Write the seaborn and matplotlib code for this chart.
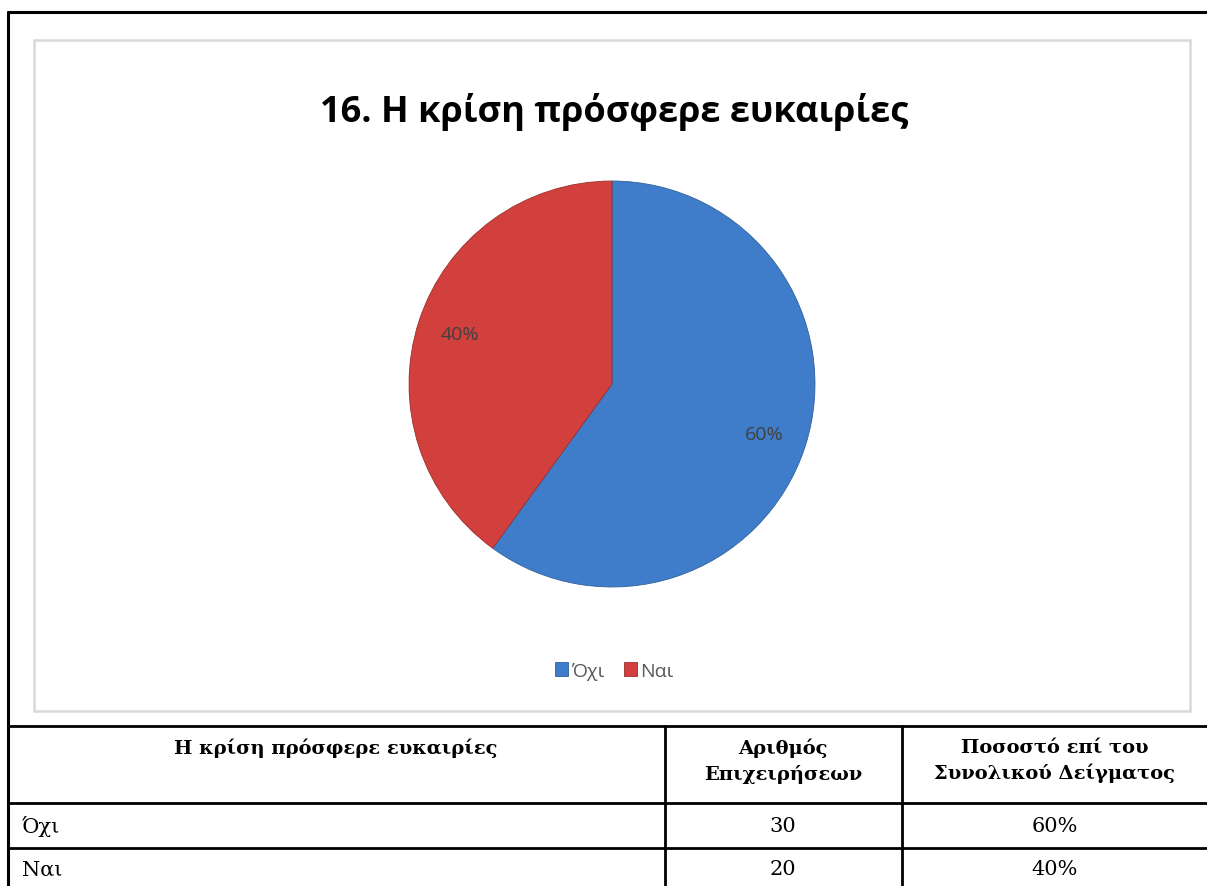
import matplotlib
matplotlib.use("Agg")
import matplotlib.pyplot as plt
import seaborn as sns
from matplotlib.lines import Line2D
from matplotlib.patches import Rectangle

# ---- data ----
title = "16. Η κρίση πρόσφερε ευκαιρίες"
categories = ["Όχι", "Ναι"]
counts = [30, 20]
percents = ["60%", "40%"]
col_headers = ["Η κρίση πρόσφερε ευκαιρίες", "Αριθμός\nΕπιχειρήσεων", "Ποσοστό επί του\nΣυνολικού Δείγματος"]
colors = ["#3F7DCB", "#D2403D"]

sns.set_theme(style="white")
plt.rcParams["font.family"] = ["Open Sans", "DejaVu Sans"]
plt.rcParams["text.color"] = "black"

W, H = 1207, 887
fig = plt.figure(figsize=(W / 100, H / 100), dpi=100)
fig.patch.set_facecolor("white")

# overlay axes in pixel coordinates for frame and table
ov = fig.add_axes([0, 0, 1, 1])
ov.set_xlim(0, W)
ov.set_ylim(H, 0)
ov.axis("off")

# outer black border
ov.add_line(Line2D([8, W], [13, 13], color="black", lw=2.2))
ov.add_line(Line2D([8, 8], [13, H], color="black", lw=2.2))
# inner gray chart frame
ov.add_patch(Rectangle((34, 41), 1190 - 34, 712 - 41, fill=False, ec="#D9D9D9", lw=1.8))

# title
ov.text(614, 112, title, ha="center", va="center", fontsize=26, fontweight="bold", color="black")

# pie
cx, cy, r = 612, 385, 205
pax = fig.add_axes([(cx - r) / W, (H - cy - r) / H, 2 * r / W, 2 * r / H])
wedges, texts, autotexts = pax.pie(
    counts, colors=colors, startangle=90, counterclock=False,
    autopct="%1.0f%%", pctdistance=0.79,
    wedgeprops=dict(edgecolor="#2F5F98", linewidth=0.6),
    textprops=dict(fontsize=14, color="#404040"),
)
wedges[1].set_edgecolor("#9A2F2D")
pax.set_xlim(-1.01, 1.01)
pax.set_ylim(-1.01, 1.01)
pax.set_aspect("equal")
pax.axis("off")

# legend
leg = fig.legend(wedges, categories, loc="center", bbox_to_anchor=(614 / W, 1 - 672 / H),
                 ncol=2, frameon=False, fontsize=14, handlelength=0.7, handleheight=0.7,
                 handletextpad=0.15, columnspacing=1.0, labelcolor="#595959")

# table
lw_t = 2.0
for y in [727, 804, 849]:
    ov.add_line(Line2D([8, W], [y, y], color="black", lw=lw_t))
for x in [665, 902]:
    ov.add_line(Line2D([x, x], [727, H], color="black", lw=lw_t))

serif = ["DejaVu Serif"]
col_centers = [336, 783, 1055]
ov.text(col_centers[0], 748, col_headers[0], ha="center", va="center", fontsize=14,
        fontweight="bold", family=serif, color="black")
for i in (1, 2):
    ov.text(col_centers[i], 761, col_headers[i], ha="center", va="center", fontsize=14,
            fontweight="bold", family=serif, linespacing=1.45, color="black")

row_y = [827, 870]
for j, (cat, n, p) in enumerate(zip(categories, counts, percents)):
    ov.text(22, row_y[j], cat, ha="left", va="center", fontsize=15, family=serif, color="black")
    ov.text(col_centers[1], row_y[j], str(n), ha="center", va="center", fontsize=15, family=serif, color="black")
    ov.text(col_centers[2], row_y[j], p, ha="center", va="center", fontsize=15, family=serif, color="black")

fig.savefig("out.png", dpi=100)
